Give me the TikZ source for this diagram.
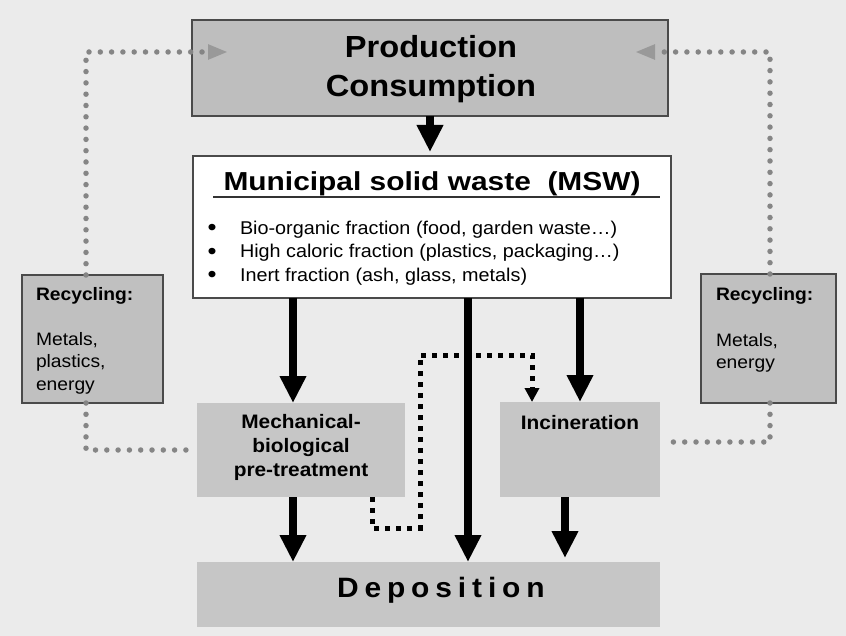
\documentclass[tikz,border=0pt]{standalone}
\usepackage{fontspec}
\setmainfont{Liberation Sans}[FakeStretch=1.07]
\newfontfamily\titlefont{Liberation Sans}[FakeStretch=1.15]
\newfontfamily\depfont{Liberation Sans}[FakeStretch=1.07,LetterSpace=21]
\usetikzlibrary{arrows.meta}
\definecolor{bgc}{HTML}{EBEBEB}
\definecolor{darkbox}{HTML}{BEBEBE}
\definecolor{recbox}{HTML}{C0C0C0}
\definecolor{lightbox}{HTML}{C6C6C6}
\definecolor{border}{HTML}{4A4A4A}
\definecolor{dotgrey}{HTML}{858585}
\definecolor{headgrey}{HTML}{999999}
\tikzset{
  boxbase/.style={rectangle, inner sep=0pt, outer sep=0pt},
  framedbox/.style={boxbase, draw=border, line width=2pt},
  plainbox/.style={boxbase, fill=lightbox},
  txt/.style={inner sep=0pt, outer sep=0pt},
  bullettxt/.style={txt, anchor=base, font=\fontsize{24}{24}\selectfont},
  bigarrow/.style={line width=8pt, black, -{Triangle[width=25pt,length=27pt]}},
  greydot/.style={dotgrey, line width=5.5pt, line cap=round, dash pattern=on 0pt off 11.3pt,
    -{Triangle[width=14pt,length=20pt,color=headgrey]}},
  greydotplain/.style={dotgrey, line width=5.5pt, line cap=round, dash pattern=on 0pt off 11.3pt},
  blackdot/.style={black, line width=5pt, dash pattern=on 5pt off 6pt,
    -{Triangle[width=14pt,length=14pt]}},
}
\begin{document}
\begin{tikzpicture}[x=1pt,y=-1pt]
\fill[bgc] (0,0) rectangle (846,636);
\useasboundingbox (0,0) rectangle (846,636);

% boxes
\node[framedbox, fill=darkbox, minimum width=476pt, minimum height=96pt] (prod) at (430,68) {};
\node[framedbox, fill=white, minimum width=478pt, minimum height=142pt] (msw) at (432,227) {};
\node[framedbox, fill=recbox, minimum width=141pt, minimum height=128pt] (rec1) at (92.5,339) {};
\node[framedbox, fill=recbox, minimum width=135pt, minimum height=129pt] (rec2) at (768.5,338.5) {};
\node[plainbox, minimum width=208pt, minimum height=94pt] (mbp) at (301,450) {};
\node[plainbox, minimum width=160pt, minimum height=95pt] (incin) at (580,449.5) {};
\node[plainbox, minimum width=463pt, minimum height=65pt] (dep) at (428.5,594.5) {};

% texts
\node[txt, anchor=base, font=\bfseries\fontsize{30.5}{36}\selectfont] (prodA) at (431,58) {Production};
\node[txt, anchor=base, font=\bfseries\fontsize{30.5}{36}\selectfont] (prodB) at (431,97) {Consumption};

\node[txt, anchor=base, font=\titlefont\bfseries\fontsize{26}{30}\selectfont] (mswT) at (432,190.7) {Municipal solid waste\ \ (MSW)};
\draw[line width=1.5pt, black!80] (213,197) -- (660,197);

\node[bullettxt] (b1) at (212,235.5) {\textbullet};
\node[bullettxt] (b2) at (212,259.2) {\textbullet};
\node[bullettxt] (b3) at (212,282.9) {\textbullet};
\node[txt, anchor=base west, font=\fontsize{18.5}{22}\selectfont] (l1) at (240,234.3) {Bio-organic fraction (food, garden waste…)};
\node[txt, anchor=base west, font=\fontsize{18.5}{22}\selectfont] (l2) at (240,258) {High caloric fraction (plastics, packaging…)};
\node[txt, anchor=base west, font=\fontsize{18.5}{22}\selectfont] (l3) at (240,281.7) {Inert fraction (ash, glass, metals)};

\node[txt, anchor=base west, font=\bfseries\fontsize{18}{22}\selectfont] (r1a) at (36,300.7) {Recycling:};
\node[txt, anchor=base west, font=\fontsize{18}{22}\selectfont] (r1b) at (36,345) {Metals,};
\node[txt, anchor=base west, font=\fontsize{18}{22}\selectfont] (r1c) at (36,367.5) {plastics,};
\node[txt, anchor=base west, font=\fontsize{18}{22}\selectfont] (r1d) at (36,390) {energy};

\node[txt, anchor=base west, font=\bfseries\fontsize{18}{22}\selectfont] (r2a) at (716,300.7) {Recycling:};
\node[txt, anchor=base west, font=\fontsize{18}{22}\selectfont] (r2b) at (716,346) {Metals,};
\node[txt, anchor=base west, font=\fontsize{18}{22}\selectfont] (r2c) at (716,368) {energy};

\node[txt, anchor=base, font=\bfseries\fontsize{19.5}{24}\selectfont] (m1) at (301,428) {Mechanical-};
\node[txt, anchor=base, font=\bfseries\fontsize{19.5}{24}\selectfont] (m2) at (301,452.5) {biological};
\node[txt, anchor=base, font=\bfseries\fontsize{19.5}{24}\selectfont] (m3) at (301,476.5) {pre-treatment};

\node[txt, anchor=base, font=\bfseries\fontsize{19.5}{24}\selectfont] (incT) at (580,429) {Incineration};

\node[txt, anchor=base west, font=\depfont\bfseries\fontsize{28}{32}\selectfont] (depT) at (337,597) {Deposition};

% helper coordinates
\coordinate (xA) at (293,0);
\coordinate (xB) at (468,0);
\coordinate (xC) at (580,0);
\coordinate (xD) at (565,0);
\coordinate (xL) at (86,0);
\coordinate (xR) at (770,0);
\coordinate (yTop) at (0,52);
\coordinate (yRB) at (0,442);
\coordinate (tipL) at (228,52);
\coordinate (tipR) at (635,52);
\coordinate (p1) at (372,528);
\coordinate (p2) at (420,528);
\coordinate (p3) at (420,355);
\coordinate (p4) at (532,355);

% grey dotted loops
\draw[greydot] (rec1.north -| xL) -- (xL |- yTop) -- (tipL);
\draw[greydot] (rec2.north -| xR) -- (xR |- yTop) -- (tipR);
\draw[greydotplain] (rec1.south -| xL) |- (mbp.west);
\draw[greydotplain] (rec2.south -| xR) -- (xR |- yRB) -- ([xshift=5pt]incin.east |- yRB);

% black dotted connector
\draw[blackdot] (mbp.south -| p1) -- (p1) -- (p2) -- (p3) -- (p4) -- (incin.north -| p4);

% black arrows
\draw[bigarrow] (prod.south) -- ([yshift=4pt]prod.south |- msw.north);
\draw[bigarrow] (msw.south -| xA) -- (mbp.north -| xA);
\draw[bigarrow] (msw.south -| xB) -- (dep.north -| xB);
\draw[bigarrow] (msw.south -| xC) -- (incin.north -| xC);
\draw[bigarrow] (mbp.south -| xA) -- (dep.north -| xA);
\draw[bigarrow] (incin.south -| xD) -- ([yshift=4pt]dep.north -| xD);
\end{tikzpicture}
\end{document}
